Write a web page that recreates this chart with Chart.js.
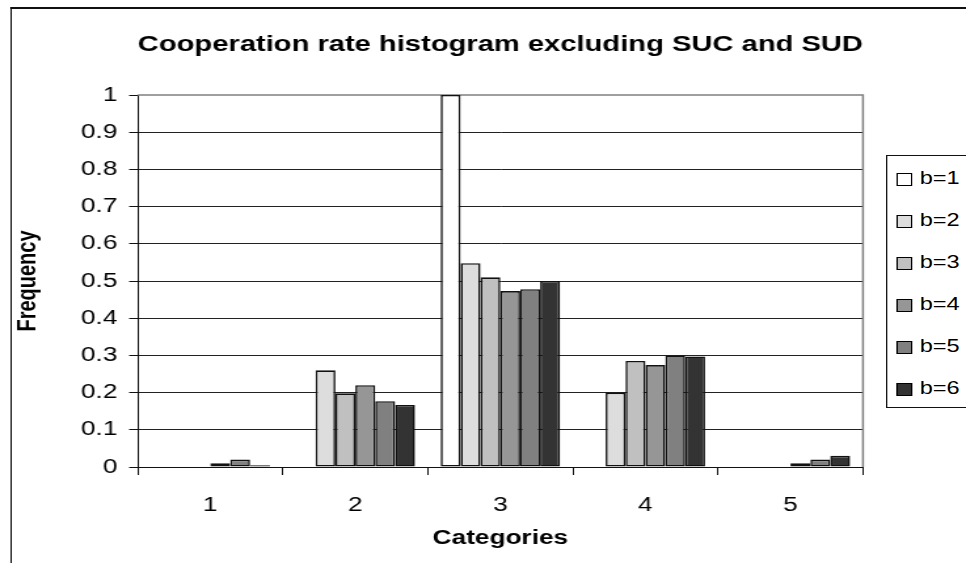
<!DOCTYPE html>
<html lang="en">
<head>
<meta charset="UTF-8">
<title>Cooperation rate histogram</title>
<script src="https://cdn.jsdelivr.net/npm/chart.js@4.4.1/dist/chart.umd.min.js"></script>
<style>
    html, body { margin: 0; padding: 0; background: #fff; overflow: hidden; }
    /* the original picture is stretched sideways, so the whole sheet is stretched too */
    .sheet {
        position: absolute; left: 0; top: 0;
        width: 737px; height: 563px;
        transform: scaleX(1.3107); transform-origin: 0 0;
    }
    .frame {
        position: absolute; left: 7.6px; top: 7px;
        width: 800px; height: 700px;
        border-left: 1.6px solid #111; border-top: 2px solid #111;
    }
    #chart { position: absolute; left: 0; top: 0; }
    .legend {
        position: absolute; left: 675.7px; top: 155px;
        width: 90px; height: 251px;
        border: 1.3px solid #111; background: #fff;
        font: 18px "Liberation Sans", Arial, sans-serif; color: #000;
    }
    .legend .item { position: absolute; left: 7px; height: 20px; line-height: 20px; white-space: nowrap; }
    .legend .box {
        display: inline-block; width: 10px; height: 11px;
        border: 1px solid #000; vertical-align: -2px; margin-right: 6px;
    }
</style>
</head>
<body>
<div class="sheet">
    <div class="frame"></div>
    <canvas id="chart" width="737" height="563"></canvas>
    <div class="legend" id="legend"></div>
</div>

<script>
    const categories = ['1', '2', '3', '4', '5'];
    const seriesNames = ['b=1', 'b=2', 'b=3', 'b=4', 'b=5', 'b=6'];
    const b1 = [0, 0, 1, 0, 0];
    const b2 = [0, 0.26, 0.548, 0.2, 0];
    const b3 = [0, 0.198, 0.51, 0.285, 0];
    const b4 = [0.01, 0.22, 0.473, 0.274, 0.01];
    const b5 = [0.02, 0.177, 0.478, 0.3, 0.02];
    const b6 = [0.005, 0.167, 0.5, 0.297, 0.03];
    const seriesColors = ['#ffffff', '#dddddd', '#c0c0c0', '#969696', '#808080', '#333333'];
    const yTickLabels = ['0', '0.1', '0.2', '0.3', '0.4', '0.5', '0.6', '0.7', '0.8', '0.9', '1'];

    const fontFamily = '"Liberation Sans", Arial, sans-serif';
    const seriesValues = [b1, b2, b3, b4, b5, b6];

    // grey frame on the top and right of the plot area
    const plotFrame = {
        id: 'plotFrame',
        beforeDatasetsDraw(chart) {
            const { ctx, chartArea: a } = chart;
            ctx.save();
            ctx.strokeStyle = '#808080';
            ctx.lineWidth = 1.5;
            ctx.beginPath();
            ctx.moveTo(a.left, a.top);
            ctx.lineTo(a.right, a.top);
            ctx.lineTo(a.right, a.bottom);
            ctx.stroke();
            ctx.restore();
        }
    };

    new Chart(document.getElementById('chart'), {
        type: 'bar',
        data: {
            labels: categories,
            datasets: seriesNames.map((name, i) => ({
                label: name,
                data: seriesValues[i],
                backgroundColor: seriesColors[i],
                borderColor: '#111',
                borderWidth: 1.6,
                borderSkipped: false,
                categoryPercentage: 0.823,
                barPercentage: 1
            }))
        },
        options: {
            responsive: false,
            animation: false,
            layout: { padding: { left: 0, right: 78.6, top: 0, bottom: 0 } },
            plugins: {
                legend: { display: false },
                tooltip: { enabled: false },
                title: {
                    display: true,
                    text: 'Cooperation rate histogram excluding SUC and SUD',
                    fullSize: false,
                    color: '#000',
                    font: { family: fontFamily, size: 22.5, weight: 'bold' },
                    padding: { top: 31.5, bottom: 36.5 }
                }
            },
            scales: {
                x: {
                    grid: { offset: true, drawOnChartArea: false, drawTicks: true, tickLength: 8, color: '#111', lineWidth: 1 },
                    border: { color: '#111', width: 1 },
                    ticks: { color: '#000', font: { family: fontFamily, size: 20 }, padding: 18 },
                    title: {
                        display: true, text: 'Categories', color: '#000',
                        font: { family: fontFamily, size: 20, weight: 'bold' },
                        padding: { top: 0, bottom: 13 }
                    },
                    afterFit(scale) { scale.height = 96; }
                },
                y: {
                    min: 0, max: 1,
                    ticks: {
                        stepSize: 0.1, autoSkip: false, padding: 9, color: '#000',
                        font: { family: fontFamily, size: 20 },
                        callback: (v, i) => yTickLabels[i]
                    },
                    grid: {
                        color: c => (c.tick && c.tick.value === 1) ? 'rgba(0,0,0,0)' : '#222',
                        tickColor: '#111', tickLength: 6.6, lineWidth: 1
                    },
                    border: { color: '#111', width: 1 },
                    title: {
                        display: true, text: 'Frequency', color: '#000',
                        font: { family: fontFamily, size: 20, weight: 'bold' },
                        padding: { top: 9.4, bottom: 0 }
                    },
                    afterFit(scale) { scale.width = 105.1; }
                }
            }
        },
        plugins: [plotFrame]
    });

    // legend box on the right
    const legend = document.getElementById('legend');
    seriesNames.forEach((name, i) => {
        const item = document.createElement('div');
        item.className = 'item';
        item.style.top = (12 + i * 42) + 'px';
        const box = document.createElement('span');
        box.className = 'box';
        box.style.background = seriesColors[i];
        item.appendChild(box);
        item.appendChild(document.createTextNode(name));
        legend.appendChild(item);
    });
</script>
</body>
</html>
